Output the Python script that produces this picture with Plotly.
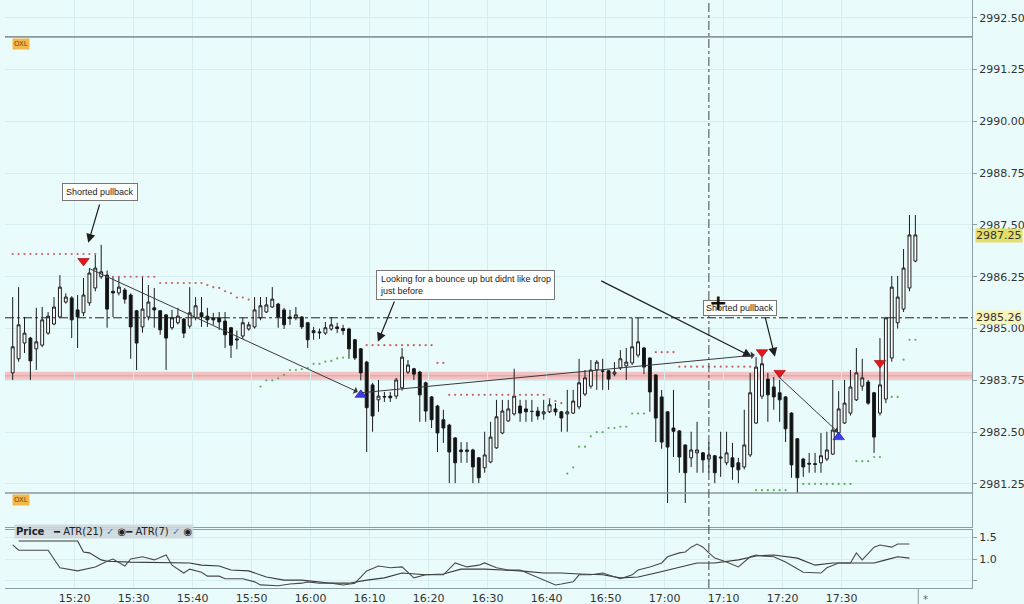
import pandas as pd
import plotly.graph_objects as go
from plotly.subplots import make_subplots

# 1-minute bars, 15:09:30 .. 17:42:30
start_time = "2019-07-10 15:09:30"

opens = [2983.93, 2984.27, 2984.65, 2984.77, 2984.51, 2984.60, 2984.89, 2985.11, 2985.28, 2985.64,
         2985.74, 2985.45, 2985.38, 2985.62, 2985.98, 2986.25, 2986.29, 2985.90, 2985.86, 2985.93,
         2985.81, 2985.43, 2985.04, 2985.28, 2985.50, 2985.43, 2985.33, 2985.02, 2985.14, 2985.23,
         2985.06, 2985.26, 2985.38, 2985.30, 2985.26, 2985.26, 2985.18, 2985.02, 2984.75, 2984.82,
         2984.99, 2985.04, 2985.26, 2985.40, 2985.52, 2985.59, 2985.45, 2985.28, 2985.26, 2985.28,
         2985.14, 2984.95, 2984.92, 2984.89, 2984.99, 2985.04, 2985.00, 2984.99, 2984.73, 2984.51,
         2984.19, 2983.64, 2983.28, 2983.36, 2983.37, 2983.37, 2983.57, 2983.95, 2984.03, 2983.95,
         2983.69, 2983.35, 2983.13, 2982.80, 2982.67, 2982.36, 2982.07, 2982.03, 2982.07, 2981.88,
         2981.64, 2981.78, 2982.12, 2982.48, 2982.77, 2982.94, 2983.13, 2983.06, 2983.00, 2983.01,
         2982.94, 2982.99, 2983.06, 2982.99, 2982.94, 2982.96, 2983.11, 2983.42, 2983.61, 2984.00,
         2983.98, 2983.98, 2983.90, 2984.05, 2984.10, 2984.17, 2984.36, 2984.53, 2984.29, 2983.88,
         2983.35, 2982.99, 2982.60, 2982.53, 2982.19, 2981.88, 2982.00, 2982.00, 2981.85, 2981.93,
         2981.90, 2981.76, 2981.88, 2981.76, 2981.66, 2981.95, 2982.72, 2983.37, 2983.78, 2983.59,
         2983.45, 2983.35, 2982.96, 2982.34, 2981.85, 2981.75, 2981.74, 2981.76, 2981.85, 2981.97,
         2982.48, 2982.72, 2982.96, 2983.28, 2983.61, 2983.71, 2983.45, 2982.96, 2983.30, 2984.29,
         2985.14, 2985.47, 2985.98, 2986.63]
highs = [2985.76, 2986.00, 2985.28, 2984.80, 2985.50, 2985.52, 2985.40, 2985.76, 2986.29, 2985.85,
         2985.78, 2985.81, 2986.22, 2986.46, 2986.78, 2987.02, 2986.40, 2986.25, 2986.25, 2985.98,
         2985.85, 2985.45, 2986.25, 2986.05, 2985.98, 2985.45, 2985.35, 2985.45, 2985.50, 2985.26,
         2986.00, 2985.76, 2985.76, 2985.50, 2985.38, 2985.40, 2985.40, 2985.04, 2984.95, 2985.26,
         2985.16, 2985.76, 2985.76, 2985.76, 2986.00, 2985.62, 2985.50, 2985.45, 2985.52, 2985.30,
         2985.16, 2985.04, 2985.00, 2985.16, 2985.28, 2985.14, 2985.09, 2985.02, 2984.75, 2984.53,
         2984.22, 2983.69, 2983.76, 2983.47, 2983.47, 2983.81, 2984.53, 2984.24, 2984.05, 2983.98,
         2983.72, 2983.37, 2983.16, 2983.04, 2982.70, 2982.38, 2982.26, 2982.26, 2982.10, 2981.90,
         2982.51, 2982.75, 2983.28, 2983.28, 2983.28, 2984.03, 2983.28, 2983.28, 2983.28, 2983.11,
         2983.28, 2983.28, 2983.20, 2983.01, 2983.52, 2983.52, 2984.27, 2984.00, 2984.24, 2984.24,
         2984.27, 2984.00, 2984.19, 2984.48, 2984.53, 2985.26, 2985.26, 2984.56, 2984.30, 2983.90,
         2983.52, 2983.00, 2983.52, 2982.55, 2982.20, 2982.51, 2982.75, 2982.02, 2982.26, 2981.95,
         2982.51, 2982.51, 2982.24, 2981.88, 2983.04, 2983.93, 2984.31, 2984.31, 2983.93, 2983.83,
         2983.76, 2983.37, 2982.98, 2982.36, 2981.88, 2982.00, 2982.00, 2982.48, 2982.51, 2983.76,
         2983.49, 2983.76, 2984.00, 2984.53, 2984.27, 2983.76, 2983.47, 2984.77, 2985.28, 2986.27,
         2986.27, 2986.92, 2987.74, 2987.74]
lows = [2983.76, 2984.20, 2984.41, 2983.76, 2984.00, 2984.55, 2984.85, 2985.08, 2985.26, 2985.60,
        2984.77, 2984.53, 2985.30, 2985.55, 2985.90, 2986.20, 2985.02, 2985.28, 2985.80, 2985.60,
        2984.27, 2984.00, 2984.90, 2985.20, 2985.02, 2984.85, 2984.00, 2984.97, 2985.10, 2984.77,
        2985.00, 2985.20, 2985.04, 2985.04, 2985.09, 2984.97, 2984.53, 2984.29, 2984.50, 2984.75,
        2984.95, 2985.00, 2985.20, 2985.38, 2985.50, 2985.02, 2984.99, 2985.09, 2985.20, 2984.99,
        2984.53, 2984.73, 2984.75, 2984.85, 2984.95, 2984.89, 2984.85, 2984.27, 2984.24, 2983.75,
        2982.02, 2982.51, 2982.99, 2983.23, 2983.23, 2983.30, 2983.50, 2983.90, 2983.76, 2982.75,
        2982.75, 2982.60, 2982.02, 2982.24, 2981.27, 2981.27, 2981.76, 2981.76, 2981.27, 2981.27,
        2981.52, 2981.75, 2982.10, 2982.45, 2982.75, 2982.90, 2982.75, 2982.75, 2982.75, 2982.80,
        2982.80, 2982.96, 2982.90, 2982.51, 2982.51, 2982.94, 2983.05, 2983.37, 2983.55, 2983.52,
        2983.52, 2983.52, 2983.85, 2984.00, 2983.76, 2984.12, 2984.30, 2983.90, 2982.99, 2982.26,
        2982.10, 2980.79, 2981.90, 2981.52, 2980.79, 2981.66, 2981.52, 2981.52, 2981.52, 2981.27,
        2981.42, 2981.70, 2981.35, 2981.27, 2981.60, 2981.90, 2982.70, 2983.30, 2982.75, 2983.04,
        2982.75, 2982.26, 2981.40, 2981.03, 2981.42, 2981.52, 2981.52, 2981.52, 2981.80, 2981.95,
        2982.45, 2982.70, 2982.90, 2983.25, 2983.50, 2983.16, 2982.00, 2982.90, 2983.20, 2984.20,
        2985.00, 2985.40, 2985.90, 2986.60]
closes = [2984.56, 2985.09, 2984.89, 2984.22, 2984.68, 2985.21, 2985.30, 2985.52, 2986.00, 2985.76,
          2985.21, 2985.28, 2985.81, 2986.34, 2986.46, 2986.37, 2985.47, 2985.86, 2986.00, 2985.71,
          2985.04, 2984.65, 2985.47, 2985.64, 2985.45, 2984.97, 2984.77, 2985.26, 2985.30, 2984.89,
          2985.38, 2985.55, 2985.28, 2985.21, 2985.21, 2985.16, 2984.85, 2984.60, 2984.73, 2985.14,
          2985.09, 2985.45, 2985.55, 2985.57, 2985.71, 2985.28, 2985.09, 2985.24, 2985.33, 2985.04,
          2984.73, 2984.90, 2984.90, 2985.02, 2985.09, 2985.00, 2984.95, 2984.51, 2984.29, 2983.93,
          2983.09, 2982.89, 2983.37, 2983.35, 2983.33, 2983.76, 2984.31, 2984.12, 2983.90, 2983.40,
          2983.01, 2982.80, 2982.48, 2982.60, 2982.02, 2981.76, 2982.03, 2982.07, 2981.66, 2981.40,
          2981.95, 2982.38, 2982.87, 2983.01, 2983.06, 2983.37, 2982.96, 2982.99, 2983.00, 2982.89,
          2982.99, 2983.16, 2982.99, 2982.84, 2982.99, 2983.25, 2983.69, 2983.81, 2984.00, 2984.19,
          2983.97, 2983.78, 2983.95, 2984.27, 2984.19, 2984.56, 2984.68, 2984.07, 2983.47, 2982.84,
          2982.26, 2982.14, 2982.52, 2981.90, 2981.52, 2982.07, 2982.07, 2981.83, 2981.95, 2981.52,
          2981.88, 2982.00, 2981.66, 2981.59, 2982.19, 2983.45, 2984.07, 2984.15, 2983.40, 2983.35,
          2983.28, 2982.58, 2981.71, 2981.40, 2981.66, 2981.73, 2981.72, 2981.93, 2982.07, 2982.55,
          2983.06, 2983.20, 2983.59, 2983.93, 2983.81, 2983.20, 2982.38, 2983.64, 2985.26, 2986.00,
          2985.76, 2986.46, 2987.26, 2987.26]

# trailing stop dots (red above price, green below)
red_stop = ([2986.8] * 15 + [None] + [2986.25] * 9 + [2986.1] * 8
            + [2986.05, 2986.0, 2985.98, 2985.9, 2985.85, 2985.75, 2985.75, 2985.7]
            + [None] * 19 + [2984.6] * 12 + [2984.17] * 2 + [2983.4] * 17
            + [2983.3, 2983.25, 2983.2] + [None] * 15 + [2984.43] * 4 + [2984.08] * 13
            + [None] * 28)
green_stop = ([None] * 42
              + [2983.6, 2983.75, 2983.75, 2983.8, 2983.88, 2984.0, 2984.0, 2984.02,
                 2984.05, 2984.15, 2984.15, 2984.2, 2984.22, 2984.28, 2984.3, 2984.33]
              + [None] * 36
              + [2981.5, 2981.65, 2982.15, 2982.15, 2982.4, 2982.5, 2982.5, 2982.6,
                 2982.6, 2982.63, 2982.63, 2982.95, 2982.95, 2982.95]
              + [None] * 18 + [2981.1] * 6 + [None] * 2 + [2981.25] * 9 + [2981.8] * 3
              + [2981.9] * 2 + [None] + [2983.35] * 2 + [2984.25] + [2984.73] * 2)

# entry signals
sell_idx = [12, 127, 130, 147]
sell_px = [2986.63, 2984.43, 2983.93, 2984.17]
buy_idx = [59, 140]
buy_px = [2983.40, 2982.38]

# ATR lower panel (bar index, value)
atr21_idx = [1, 11, 12, 13, 15, 16, 20, 26, 30, 32, 35, 37, 40, 43, 46, 49, 52, 54, 57, 60, 63,
             66, 70, 73, 76, 80, 83, 86, 90, 93, 96, 100, 103, 106, 109, 113, 116, 119, 123,
             126, 129, 133, 136, 139, 143, 146, 148, 150, 152]
atr21_val = [1.41, 1.41, 1.16, 1.14, 0.98, 0.95, 0.93, 0.91, 0.91, 0.86, 0.84, 0.75, 0.73, 0.59,
             0.52, 0.52, 0.48, 0.45, 0.45, 0.52, 0.57, 0.68, 0.64, 0.66, 0.77, 0.77, 0.75, 0.73,
             0.68, 0.68, 0.66, 0.64, 0.57, 0.59, 0.68, 0.82, 0.91, 0.91, 0.98, 1.07, 1.09, 1.02,
             0.86, 0.91, 0.91, 0.91, 0.98, 1.05, 1.02]
atr7_idx = [0, 1, 6, 8, 11, 14, 16, 17, 19, 20, 22, 24, 26, 27, 29, 30, 32, 33, 35, 36, 39, 41,
            42, 45, 47, 49, 50, 52, 54, 56, 58, 60, 62, 64, 66, 68, 70, 73, 75, 77, 79, 80, 82,
            84, 86, 88, 90, 92, 93, 95, 96, 98, 100, 102, 103, 105, 106, 108, 110, 111, 113,
            114, 115, 116, 117, 118, 119, 121, 123, 125, 126, 127, 129, 131, 134, 137, 138,
            140, 142, 143, 144, 146, 147, 149, 150, 152]
atr7_val = [1.32, 1.20, 1.20, 0.80, 0.73, 0.82, 0.95, 1.00, 0.84, 1.00, 1.05, 0.98, 1.09, 0.86,
            0.68, 0.77, 0.70, 0.61, 0.61, 0.55, 0.55, 0.48, 0.41, 0.39, 0.43, 0.45, 0.48, 0.45,
            0.45, 0.41, 0.45, 0.73, 0.84, 0.80, 0.82, 0.57, 0.64, 0.64, 0.91, 0.82, 0.86, 0.91,
            0.80, 0.75, 0.75, 0.64, 0.52, 0.41, 0.43, 0.48, 0.64, 0.64, 0.68, 0.59, 0.55, 0.64,
            0.75, 0.82, 0.91, 1.05, 1.14, 1.16, 1.27, 1.34, 1.27, 1.14, 1.02, 0.93, 0.82, 1.05,
            1.09, 1.07, 1.05, 0.93, 0.70, 0.68, 0.80, 0.91, 0.91, 1.14, 0.98, 1.27, 1.32, 1.27,
            1.34, 1.34]

price_ticks = [2981.25, 2982.50, 2983.75, 2985.00, 2986.25, 2987.50, 2988.75, 2990.00, 2991.25, 2992.50]
time_ticks = ["15:20", "15:30", "15:40", "15:50", "16:00", "16:10", "16:20",
              "16:30", "16:40", "16:50", "17:00", "17:10", "17:20", "17:30"]
oxl_levels = [2992.04, 2981.03]
support_level = 2983.86
marker_line = 2985.26
last_price = 2987.25

BG = "#EAFBFB"
GRID = "#D6EEF0"
AXIS = "#8E9DA2"

times = pd.date_range(start_time, periods=len(opens), freq="1min")
day = start_time.split()[0]
tick_times = [pd.Timestamp(f"{day} {t}") for t in time_ticks]


def at(i):
    # time at a (fractional) bar index
    return times[0] + pd.Timedelta(minutes=i)


fig = make_subplots(rows=2, cols=1, shared_xaxes=True, vertical_spacing=0.005,
                    row_heights=[0.9, 0.1])

fig.add_trace(go.Candlestick(
    x=times, open=opens, high=highs, low=lows, close=closes,
    increasing=dict(line=dict(color="#1c1c1c", width=1), fillcolor="white"),
    decreasing=dict(line=dict(color="#1c1c1c", width=1), fillcolor="#111111"),
    whiskerwidth=0, hoverinfo="skip"), row=1, col=1)

fig.add_trace(go.Scatter(x=times, y=red_stop, mode="markers",
                         marker=dict(size=2.2, color="#C86262"), hoverinfo="skip"), row=1, col=1)
fig.add_trace(go.Scatter(x=times, y=green_stop, mode="markers",
                         marker=dict(size=2.2, color="#5DAF5D"), hoverinfo="skip"), row=1, col=1)

fig.add_trace(go.Scatter(x=times[sell_idx], y=sell_px, mode="markers",
                         marker=dict(symbol="triangle-down", size=10, color="#E8161C",
                                     line=dict(color="#9A0000", width=0.6)),
                         hoverinfo="skip"), row=1, col=1)
fig.add_trace(go.Scatter(x=times[buy_idx], y=buy_px, mode="markers",
                         marker=dict(symbol="triangle-up", size=10, color="#3C3CE6",
                                     line=dict(color="#1A1A90", width=0.6)),
                         hoverinfo="skip"), row=1, col=1)

fig.add_trace(go.Scatter(x=times[atr21_idx], y=atr21_val, mode="lines",
                         line=dict(color="#3A3A3A", width=1.1), hoverinfo="skip"), row=2, col=1)
fig.add_trace(go.Scatter(x=times[atr7_idx], y=atr7_val, mode="lines",
                         line=dict(color="#4A4A4A", width=1.1), hoverinfo="skip"), row=2, col=1)

# horizontal levels
for lv in oxl_levels:
    fig.add_shape(type="line", xref="x domain", yref="y", x0=0, x1=1, y0=lv, y1=lv,
                  line=dict(color="#8A979C", width=1.6))
    fig.add_annotation(xref="paper", yref="y", x=0.0075, y=lv, yshift=-1, text="OXL",
                       showarrow=False, xanchor="left", yanchor="top",
                       font=dict(size=7, color="#7A4A00", family="DejaVu Sans"),
                       bgcolor="#F2B84B", borderpad=1)
fig.add_shape(type="line", xref="x domain", yref="y", x0=0, x1=1, y0=support_level,
              y1=support_level, line=dict(color="#F3C3C3", width=8), layer="below")
fig.add_shape(type="line", xref="x domain", yref="y", x0=0, x1=1, y0=support_level,
              y1=support_level, line=dict(color="#E9A9A9", width=1.5), layer="below")
fig.add_shape(type="line", xref="x domain", yref="y", x0=0, x1=1, y0=marker_line,
              y1=marker_line, line=dict(color="#222222", width=1, dash="dashdot"))
# vertical cursor line through both panels
fig.add_shape(type="line", xref="x", yref="paper", x0=times[118], x1=times[118], y0=0, y1=1,
              line=dict(color="#444444", width=1, dash="dashdot"))
# end-of-data marker under the time axis
fig.add_shape(type="line", xref="x", yref="paper", x0=at(153.5), x1=at(153.5), y0=0, y1=-0.03,
              line=dict(color=AXIS, width=1))

# right-axis price flags
fig.add_annotation(xref="paper", yref="y", x=1, y=last_price, xanchor="left", xshift=3,
                   text=f"{last_price:.2f}", showarrow=False, bgcolor="#E3DF6A",
                   font=dict(size=11, color="#333", family="DejaVu Sans"), borderpad=0)
fig.add_annotation(xref="paper", yref="y", x=1, y=marker_line, xanchor="left", xshift=3,
                   text=f"{marker_line:.2f}", showarrow=False, bgcolor="#F6F4B8",
                   font=dict(size=11, color="#333", family="DejaVu Sans"), borderpad=0)

# note boxes
note_font = dict(size=9, color="#222", family="Liberation Sans")
fig.add_annotation(x=at(14.8), y=2988.30, text="Shorted pullback", showarrow=False,
                   bgcolor="white", bordercolor="#777", borderwidth=1, borderpad=3, font=note_font)
fig.add_annotation(x=at(76.8), y=2986.05, showarrow=False, align="left",
                   text="Looking for a bounce up but didnt like drop<br>just before",
                   bgcolor="white", bordercolor="#777", borderwidth=1, borderpad=3, font=note_font)
fig.add_annotation(x=at(123.3), y=2985.50, text="Shorted pullback", showarrow=False,
                   bgcolor="white", bordercolor="#777", borderwidth=1, borderpad=2, font=note_font)

# arrows: (tail index, tail price, head index, head price, style)
arrows = [
    (14.8, 2988.03, 12.8, 2987.07, "note"),
    (64.8, 2985.69, 61.9, 2984.68, "note"),
    (99.5, 2986.17, 125.3, 2984.32, "note"),
    (127.5, 2985.30, 129.2, 2984.32, "note"),
    (12.8, 2986.46, 58.5, 2983.47, "trade"),
    (59.0, 2983.45, 125.8, 2984.36, "trade"),
    (129.5, 2983.88, 139.9, 2982.50, "trade"),
]
for ti, tp, hi, hp, kind in arrows:
    if kind == "note":
        style = dict(arrowcolor="#1E1E1E", arrowwidth=1.2, arrowhead=2, arrowsize=1.5)
    else:
        style = dict(arrowcolor="#3A3A3A", arrowwidth=1, arrowhead=1, arrowsize=1.3)
    fig.add_annotation(x=at(hi), y=hp, ax=at(ti), ay=tp, xref="x", yref="y",
                       axref="x", ayref="y", text="", showarrow=True, **style)

# mouse cross
fig.add_annotation(x=at(119.5), y=2985.64, text="<b>+</b>", showarrow=False,
                   font=dict(size=22, color="#111", family="DejaVu Sans"))

# ATR legend strip
fig.add_annotation(xref="paper", yref="paper", x=0.0095, y=0.084, xanchor="left",
                   text="<b>Price</b>   ━ ATR(21) <span style='color:#4a7ab0'>✓</span> ◉"
                        "━ ATR(7) <span style='color:#4a7ab0'>✓</span> ◉",
                   showarrow=False, bgcolor="rgba(205,214,219,0.85)", borderpad=1,
                   font=dict(size=10, color="#222", family="DejaVu Sans"))
fig.add_annotation(xref="x", yref="paper", x=at(154.8), y=0, yanchor="top", yshift=-4,
                   text="*", showarrow=False, font=dict(size=10, color="#666"))

x_range = [at(-1.305), at(162.6)]

fig.update_layout(
    width=1024, height=604,
    margin=dict(l=5, r=52, t=0, b=16),
    paper_bgcolor=BG, plot_bgcolor=BG,
    showlegend=False, hovermode=False,
    font=dict(family="DejaVu Sans", size=11, color="#333"),
    xaxis=dict(range=x_range, rangeslider=dict(visible=False), showgrid=True, gridcolor=GRID,
               tickvals=tick_times, showline=True, linecolor=AXIS,
               showticklabels=False, zeroline=False),
    xaxis2=dict(range=x_range, showgrid=True, gridcolor=GRID, tickvals=tick_times,
                ticktext=time_ticks, showline=True, mirror=True,
                linecolor=AXIS, ticks="", tickfont=dict(size=11, color="#333"), zeroline=False),
    yaxis=dict(domain=[0.1037, 1], range=[2980.21, 2992.93], side="right",
               tickvals=price_ticks, ticktext=[f"{v:.2f}" for v in price_ticks],
               showgrid=True, gridcolor=GRID, showline=True, linecolor=AXIS,
               ticks="outside", ticklen=4, tickcolor=AXIS, zeroline=False),
    yaxis2=dict(domain=[0, 0.0986], range=[0.34, 1.66], side="right",
                tickvals=[0.5, 1.0, 1.5], ticktext=["", "1.0", "1.5"], showgrid=True,
                gridcolor=GRID, showline=True, linecolor=AXIS, ticks="outside", ticklen=4,
                tickcolor=AXIS, zeroline=False),
)

# page body margin would shift the 1024x604 figure and add scrollbars
fig.write_html("out.html", config={"displayModeBar": False},
               post_script="document.body.style.margin='0';"
                           "document.body.style.overflow='hidden';")
